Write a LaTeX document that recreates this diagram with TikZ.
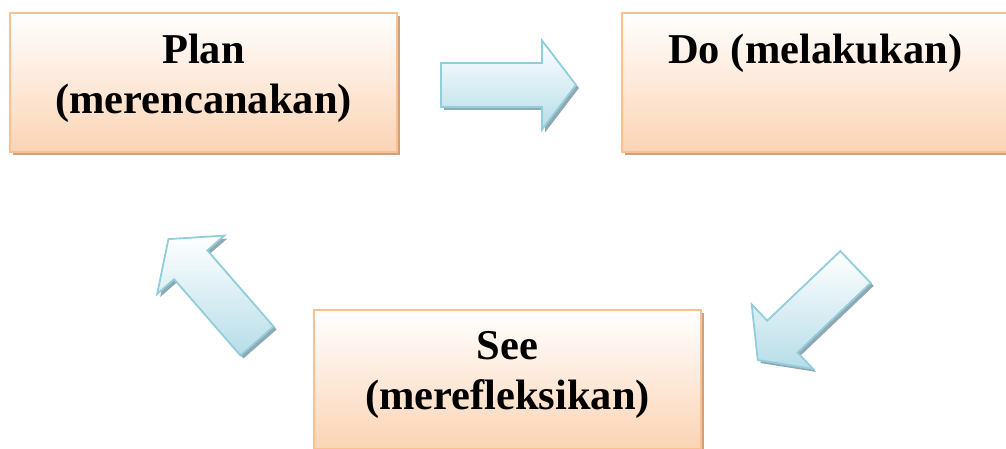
\documentclass[tikz,border=0pt]{standalone}
\usepackage{fontspec}
\setmainfont{Liberation Serif}
\usetikzlibrary{positioning,shadows}
\definecolor{pcborder}{RGB}{250,192,143}
\definecolor{pcfill}{RGB}{251,212,180}
\definecolor{pcshadow}{RGB}{207,160,125}
\definecolor{arborder}{RGB}{146,205,220}
\definecolor{arfill}{RGB}{182,221,232}
\definecolor{arshadow}{RGB}{143,168,178}

\begin{document}
\begin{tikzpicture}[
  x=1pt, y=1pt,
  font=\fontsize{42.5}{50}\selectfont\bfseries,
  box/.style={rectangle, draw=pcborder, line width=1.8pt,
    top color=white, bottom color=pcfill,
    minimum width=387pt, minimum height=139pt, inner sep=0pt,
    drop shadow={shadow xshift=3pt, shadow yshift=-3pt, fill=pcshadow, opacity=1}},
  lbl/.style={align=center, inner sep=0pt, anchor=north},
  barrow/.style={draw=arborder, line width=1.8pt, line join=miter,
    top color=white, bottom color=arfill,
    drop shadow={shadow xshift=3pt, shadow yshift=-3pt, fill=arshadow, opacity=1}}
]
\useasboundingbox (0,0) rectangle (1006,448);

% the three stages
\node[box] (plan) at (203.5,365.5) {};
\node[box, right=223pt of plan] (do) {};
\node[box] (see) at (507.5,68.5) {};

\node[lbl] (planlbl) at ([yshift=-22pt]plan.north) {Plan\\(merencanakan)};
\node[lbl] (dolbl) at ([yshift=-22pt]do.north) {Do (melakukan)};
\node[lbl] (seelbl) at ([yshift=-22pt]see.north) {See\\(merefleksikan)};

% block arrows of the cycle
\path[barrow, shift={(441,363)}]
  (0,22) -- (101,22) -- (101,44.5) -- (135,0) -- (101,-44.5) -- (101,-22) -- (0,-22) -- cycle;
\path[barrow, shift={(855.5,181)}, rotate=223.6]
  (0,22) -- (101,22) -- (101,44.5) -- (135,0) -- (101,-44.5) -- (101,-22) -- (0,-22) -- cycle;
\path[barrow, shift={(257,107)}, rotate=131]
  (0,22) -- (101,22) -- (101,44.5) -- (135,0) -- (101,-44.5) -- (101,-22) -- (0,-22) -- cycle;
\end{tikzpicture}
\end{document}
